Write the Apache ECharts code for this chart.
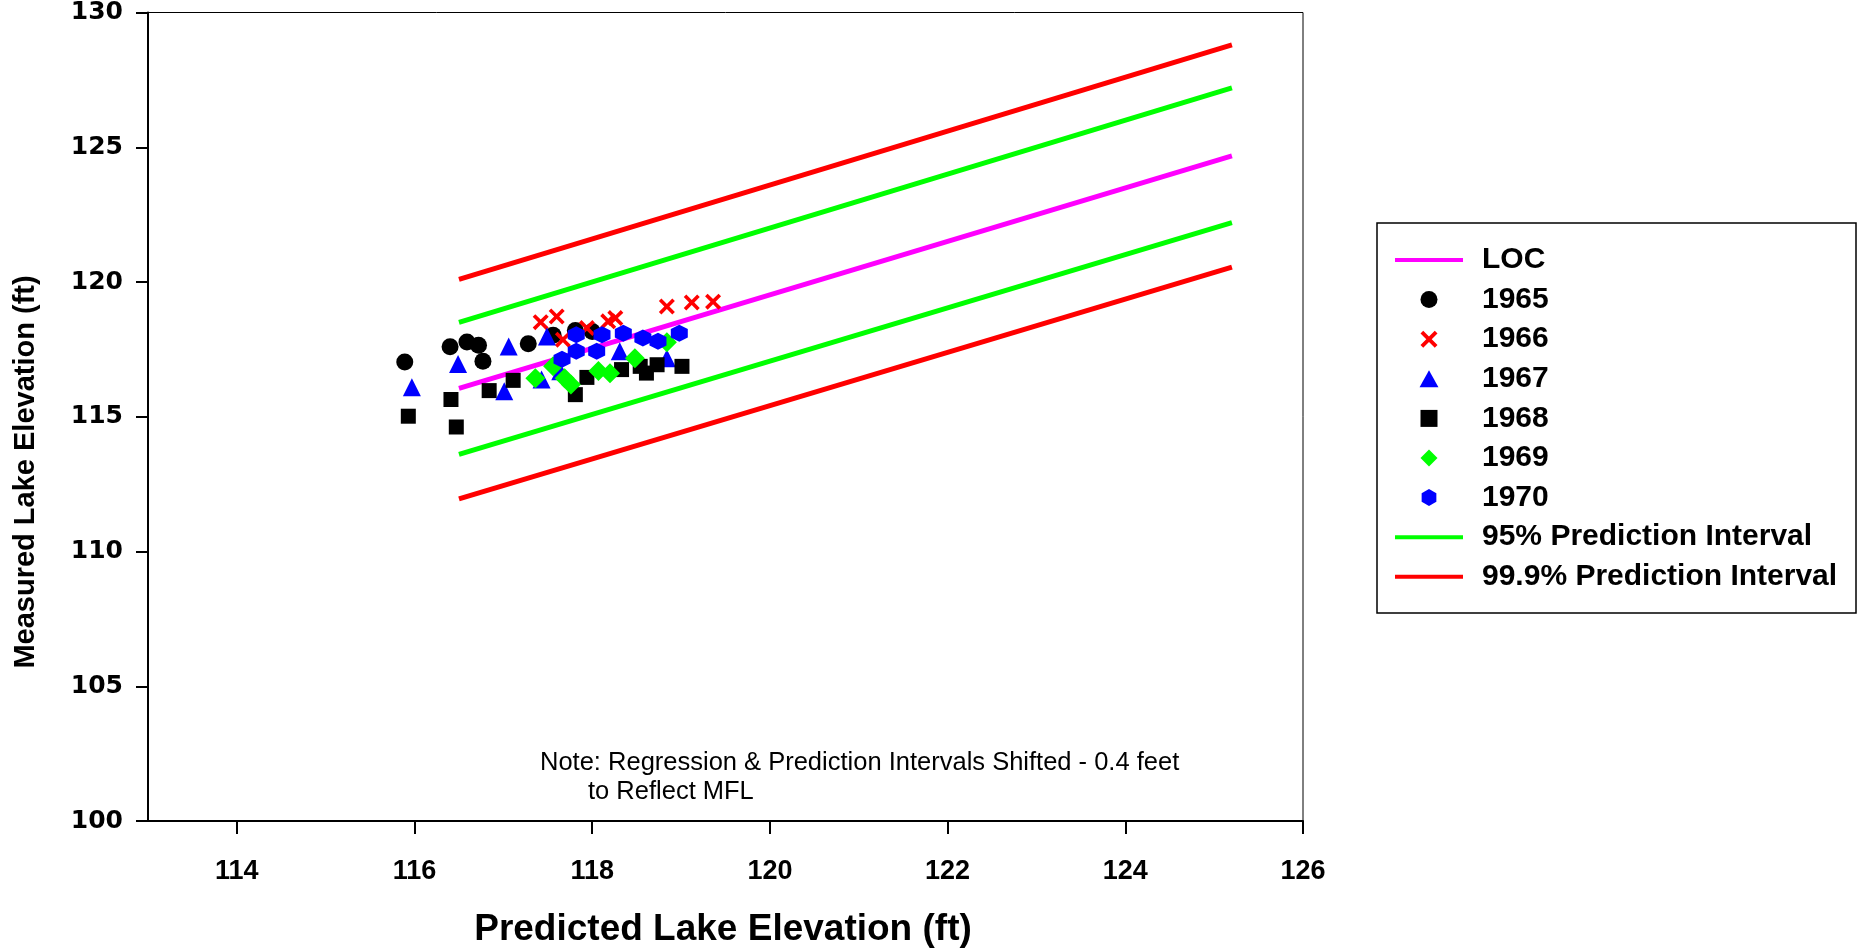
<!DOCTYPE html>
<html>
<head>
<meta charset="utf-8">
<script src="https://cdn.jsdelivr.net/npm/echarts@6/dist/echarts.min.js"></script>
<style>
  html, body { margin: 0; padding: 0; background: #fff; }
  #main { width: 1858px; height: 950px; }
</style>
</head>
<body>
<div id="main"></div>
<script>
// x ticks / y ticks
var xTicks = [114, 116, 118, 120, 122, 124, 126]
var yTicks = [100, 105, 110, 115, 120, 125, 130]

// regression + prediction interval lines (start/end)
var lineX = [116.5, 125.2]
var locY = [116.05, 124.68]
var pi95UpperY = [118.5, 127.2]
var pi95LowerY = [113.6, 122.2]
var pi999UpperY = [120.1, 128.8]
var pi999LowerY = [111.95, 120.55]

// observed points by year
var x1965 = [115.89, 116.40, 116.59, 116.72, 116.77, 117.28, 117.56, 117.81, 118.00]
var y1965 = [117.03, 117.60, 117.77, 117.65, 117.06, 117.71, 118.02, 118.20, 118.16]
var x1966 = [117.42, 117.60, 117.67, 117.94, 118.18, 118.26, 118.84, 119.12, 119.36]
var y1966 = [118.51, 118.72, 117.86, 118.29, 118.54, 118.66, 119.09, 119.24, 119.27]
var x1967 = [115.97, 116.49, 117.06, 117.01, 117.49, 117.43, 117.64, 118.31, 118.84]
var y1967 = [116.09, 116.96, 117.61, 115.95, 117.98, 116.38, 116.69, 117.43, 117.17]
var x1968 = [115.93, 116.41, 116.47, 116.84, 117.11, 117.81, 117.94, 118.33, 118.54, 118.61, 118.73, 119.01]
var y1968 = [115.02, 115.64, 114.62, 115.97, 116.35, 115.82, 116.46, 116.75, 116.87, 116.62, 116.93, 116.87]
var x1969 = [117.36, 117.56, 117.69, 117.76, 118.07, 118.20, 118.48, 118.84]
var y1969 = [116.43, 116.87, 116.43, 116.20, 116.70, 116.61, 117.17, 117.76]
var x1970 = [117.66, 117.82, 117.82, 118.05, 118.11, 118.35, 118.57, 118.74, 118.98]
var y1970 = [117.13, 117.43, 118.04, 117.43, 118.04, 118.10, 117.92, 117.80, 118.10]

function pairs(xs, ys) {
  return xs.map(function (x, i) { return [x, ys[i]] })
}

// path symbols keep their aspect ratio in the legend too
var xMark = 'path://M0,1.6 L1.6,0 L5,3.4 L8.4,0 L10,1.6 L6.6,5 L10,8.4 L8.4,10 L5,6.6 L1.6,10 L0,8.4 L3.4,5 Z'
var hexMark = 'path://M5,0 L9.33,2.5 L9.33,7.5 L5,10 L0.67,7.5 L0.67,2.5 Z'
var triMark = 'path://M5,0 L10,9 L0,9 Z'
var sqMark = 'path://M0,0 L10,0 L10,10 L0,10 Z'
var diaMark = 'path://M5,0 L10,5 L5,10 L0,5 Z'
var lineIcon = 'path://M0,0 L100,0 L100,6 L0,6 Z'

function lineSeries(name, ys, color) {
  return {
    name: name,
    type: 'line',
    data: pairs(lineX, ys),
    showSymbol: false,
    symbol: 'none',
    z: 1,
    lineStyle: { color: color, width: 5 },
    itemStyle: { color: color },
    silent: true
  }
}

function scatterSeries(name, xs, ys, symbol, size, color) {
  return {
    name: name,
    type: 'scatter',
    data: pairs(xs, ys),
    symbol: symbol,
    symbolSize: size,
    z: 3,
    itemStyle: { color: color, opacity: 1 }
  }
}

var myChart = echarts.init(document.getElementById('main'))
var boldFont = 'Arial, "Liberation Sans", sans-serif'

var option = {
  animation: false,
  backgroundColor: '#fff',
  grid: {
    left: 148,
    right: 555,
    top: 10,
    bottom: 129,
    show: true,
    borderColor: '#000',
    borderWidth: 1
  },
  xAxis: {
    type: 'value',
    min: 113,
    max: 126,
    interval: 1,
    splitLine: { show: false },
    axisLine: { show: true, onZero: false, lineStyle: { color: '#000', width: 2 } },
    axisTick: { show: true, length: 13, lineStyle: { color: '#000', width: 2 }, customValues: xTicks },
    axisLabel: {
      customValues: xTicks,
      margin: 37,
      color: '#000',
      fontSize: 27,
      fontWeight: 'bold',
      fontFamily: boldFont
    }
  },
  yAxis: {
    type: 'value',
    min: 100,
    max: 130,
    interval: 5,
    splitLine: { show: false },
    axisLine: { show: true, onZero: false, lineStyle: { color: '#000', width: 2 } },
    axisTick: { show: true, length: 12, lineStyle: { color: '#000', width: 2 }, customValues: yTicks },
    axisLabel: {
      customValues: yTicks,
      margin: 25,
      color: '#000',
      fontSize: 25,
      fontWeight: 'bold',
      fontFamily: '"DejaVu Sans", sans-serif'
    }
  },
  legend: {
    orient: 'vertical',
    left: 1395,
    top: 245,
    padding: 0,
    itemWidth: 68,
    itemHeight: 17,
    itemGap: 9.6,
    selectedMode: false,
    textStyle: {
      fontSize: 30,
      lineHeight: 30,
      fontWeight: 'bold',
      fontFamily: boldFont,
      color: '#000',
      padding: [0, 0, 0, 14]
    },
    data: [
      { name: 'LOC', icon: lineIcon },
      '1965', '1966', '1967', '1968', '1969', '1970',
      { name: '95% Prediction Interval', icon: lineIcon },
      { name: '99.9% Prediction Interval', icon: lineIcon }
    ]
  },
  graphic: [
    {
      type: 'rect',
      shape: { x: 1377, y: 223, width: 479, height: 390 },
      style: { fill: 'none', stroke: '#000', lineWidth: 1.5 },
      z: -1
    },
    {
      type: 'text',
      x: 26,
      y: 472,
      rotation: Math.PI / 2,
      style: {
        text: 'Measured Lake Elevation (ft)',
        fontSize: 29,
        fontWeight: 'bold',
        fontFamily: boldFont,
        fill: '#000',
        textAlign: 'center',
        textVerticalAlign: 'middle'
      }
    },
    {
      type: 'text',
      x: 723,
      y: 930,
      style: {
        text: 'Predicted Lake Elevation (ft)',
        fontSize: 37,
        fontWeight: 'bold',
        fontFamily: boldFont,
        fill: '#000',
        textAlign: 'center',
        textVerticalAlign: 'middle'
      }
    },
    {
      type: 'text',
      x: 540,
      y: 763,
      style: {
        text: 'Note: Regression & Prediction Intervals Shifted - 0.4 feet',
        fontSize: 25.5,
        fontFamily: boldFont,
        fill: '#000',
        textAlign: 'left',
        textVerticalAlign: 'middle'
      }
    },
    {
      type: 'text',
      x: 588,
      y: 792,
      style: {
        text: 'to Reflect MFL',
        fontSize: 25.5,
        fontFamily: boldFont,
        fill: '#000',
        textAlign: 'left',
        textVerticalAlign: 'middle'
      }
    }
  ],
  series: [
    lineSeries('99.9% Prediction Interval', pi999UpperY, '#ff0000'),
    lineSeries('99.9% Prediction Interval', pi999LowerY, '#ff0000'),
    lineSeries('95% Prediction Interval', pi95UpperY, '#00ff00'),
    lineSeries('95% Prediction Interval', pi95LowerY, '#00ff00'),
    lineSeries('LOC', locY, '#ff00ff'),
    scatterSeries('1965', x1965, y1965, 'circle', 17, '#000000'),
    scatterSeries('1966', x1966, y1966, xMark, 16, '#ff0000'),
    scatterSeries('1967', x1967, y1967, triMark, 18, '#0000ff'),
    scatterSeries('1968', x1968, y1968, sqMark, 15, '#000000'),
    scatterSeries('1969', x1969, y1969, diaMark, 20, '#00ff00'),
    scatterSeries('1970', x1970, y1970, hexMark, 17, '#0000ff')
  ]
}

myChart.setOption(option)
</script>
</body>
</html>
